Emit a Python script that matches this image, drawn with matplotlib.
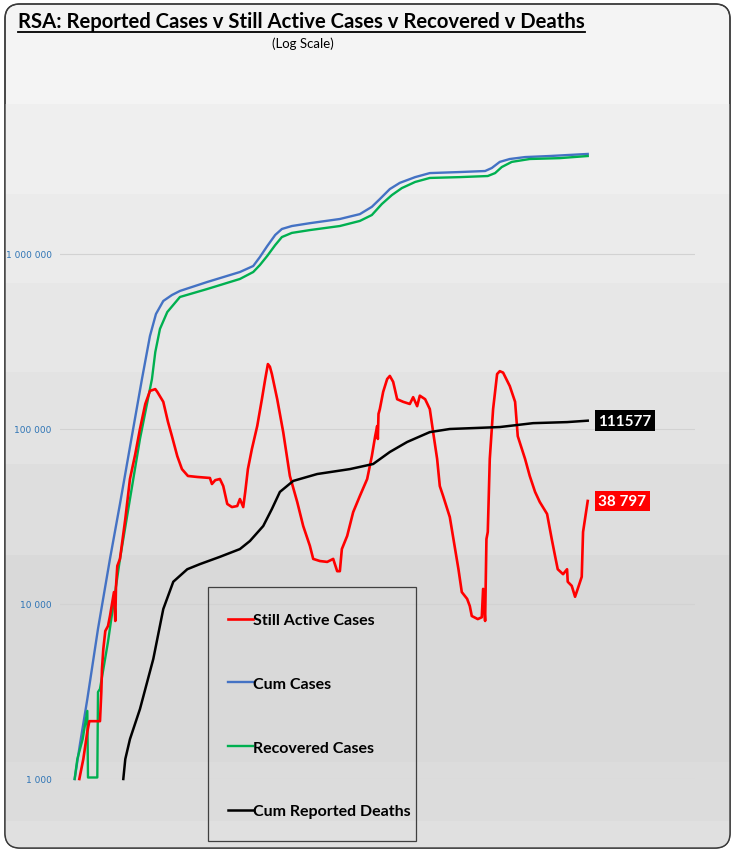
import numpy as np
import matplotlib
matplotlib.use("Agg")
from matplotlib import pyplot as plt
from matplotlib.patches import FancyBboxPatch, Rectangle
from matplotlib.lines import Line2D

# data (x = days since first 1 000 cases, approx.)
cum_days = [2, 10, 21, 37, 55, 70, 85, 103, 115, 124, 135, 148, 160, 201, 250, 270, 280, 291, 303,
            313, 328, 355, 400, 430, 448, 460, 475, 490, 513, 535, 580, 618, 628, 640, 655, 678, 715, 772]
cum_cases = [1000, 1585, 2860, 7200, 18100, 37300, 78900, 193000, 340000, 454000, 539000, 583000,
             615000, 692000, 789000, 854000, 961000, 1110000, 1285000, 1390000, 1445000, 1500000,
             1585000, 1690000, 1860000, 2060000, 2350000, 2550000, 2750000, 2900000, 2940000,
             2980000, 3100000, 3360000, 3490000, 3580000, 3630000, 3730000]

rec_days = [2, 6, 14, 21, 22, 36, 37, 40, 52, 70, 85, 100, 118, 123, 130, 141, 160, 201, 250, 270,
            280, 291, 303, 313, 328, 355, 400, 430, 448, 463, 478, 493, 513, 535, 580, 622, 633,
            643, 658, 685, 730, 772]
recovered = [1000, 1300, 1690, 2450, 1020, 1020, 3140, 3270, 6070, 18100, 39800, 87700, 193000,
             275000, 373000, 466000, 568000, 631000, 720000, 789000, 865000, 975000, 1125000,
             1250000, 1320000, 1370000, 1445000, 1545000, 1670000, 1930000, 2170000, 2380000,
             2580000, 2720000, 2750000, 2790000, 2900000, 3140000, 3360000, 3490000, 3530000,
             3630000]

act_days = [9, 15, 21, 24, 40, 42, 43, 45, 48, 52, 55, 61, 63, 64, 66, 70, 78, 85, 93, 100, 108,
            115, 123, 126, 135, 142, 148, 156, 163, 172, 186, 205, 208, 213, 220, 225, 231, 238,
            246, 250, 255, 258, 262, 268, 276, 283, 288, 292, 295, 298, 306, 315, 325, 336, 345,
            355, 360, 370, 381, 390, 396, 400, 403, 411, 420, 430, 441, 448, 453, 456, 457, 458,
            460, 465, 471, 475, 480, 486, 495, 505, 510, 516, 520, 528, 535, 540, 546, 550, 555,
            565, 570, 578, 583, 591, 595, 598, 607, 613, 615, 618, 620, 622, 625, 630, 636, 640,
            645, 655, 663, 667, 678, 685, 693, 700, 711, 718, 723, 727, 735, 741, 742, 748, 753,
            757, 763, 765, 772]
active = [1000, 1300, 1860, 2140, 2140, 3140, 4250, 5530, 7010, 7480, 8540, 11700, 8000, 12500,
          16500, 18100, 30600, 51800, 72000, 100000, 139000, 165000, 169000, 163000, 143000,
          110000, 91000, 70000, 59000, 53900, 53200, 52500, 48500, 51000, 51800, 47200, 37300,
          35800, 36300, 39800, 35800, 43700, 59000, 76900, 104000, 148000, 193000, 235000, 227000,
          206000, 148000, 96000, 53900, 38300, 27900, 21500, 18100, 17600, 17400, 18100, 15400,
          15400, 20600, 24500, 33500, 41400, 51800, 70000, 91000, 104000, 87700, 122000, 130000,
          163000, 193000, 201000, 186000, 148000, 143000, 139000, 152000, 135000, 155000, 148000,
          130000, 96000, 67400, 47200, 41400, 31400, 24100, 15800, 11700, 10700, 9740, 8540, 8200,
          8400, 12200, 8000, 23500, 25800, 67400, 130000, 206000, 214000, 210000, 176000, 143000,
          91000, 67400, 53900, 43700, 38300, 32700, 23500, 18800, 15800, 14800, 15800, 13400,
          12700, 11000, 12200, 14300, 25800, 38797]

death_days = [75, 78, 85, 100, 120, 135, 150, 171, 190, 220, 250, 265, 285, 298, 310, 330, 366,
              415, 450, 475, 501, 535, 565, 640, 690, 741, 772]
deaths = [1000, 1300, 1690, 2510, 4850, 9360, 13400, 15800, 16900, 18600, 20600, 22900, 27900,
          34900, 43700, 50500, 55300, 59000, 63100, 73900, 84300, 96000, 100000, 102600, 108000,
          109500, 111577]

ytick_vals = [1000, 10000, 100000, 1000000]
ytick_labels = ["1 000", "10 000", "100 000", "1 000 000"]

W, H = 7.35, 8.54
fig = plt.figure(figsize=(W, H), dpi=100)
fig.patch.set_facecolor("white")

# rounded panel + horizontal shading bands (pixel rows from the top)
panel = FancyBboxPatch((0.05, 0.05), W - 0.1, H - 0.1,
                       boxstyle="round,pad=0,rounding_size=0.15",
                       transform=fig.dpi_scale_trans, fc="#f4f4f4", ec="#3a3a3a", lw=1.0, zorder=0)
fig.patches.append(panel)
bands = [(105, 195, "#efefef"), (195, 284, "#ebebeb"), (284, 373, "#e7e7e7"),
         (373, 465, "#e3e3e3"), (465, 556, "#dedede"), (556, 763, "#d9d9d9"),
         (763, 822, "#dcdcdc"), (822, 854, "#e0e0e0")]
for top, bot, c in bands:
    r = Rectangle((0, (H * 100 - bot) / 100), W, (bot - top) / 100,
                  transform=fig.dpi_scale_trans, fc=c, ec="none", zorder=0.5)
    r.set_clip_path(panel)
    fig.patches.append(r)
fig.patches.append(FancyBboxPatch((0.05, 0.05), W - 0.1, H - 0.1,
                                  boxstyle="round,pad=0,rounding_size=0.15",
                                  transform=fig.dpi_scale_trans, fc="none", ec="#3a3a3a",
                                  lw=1.0, zorder=1))

ax = fig.add_axes([60 / 735, 74 / 854, 635 / 735, 675 / 854])
ax.set_zorder(3)
ax.set_facecolor("none")
ax.set_yscale("log")
ax.set_ylim(1000, 10 ** (3 + 675 / 175))
ax.set_xlim(-20, 933)
for s in ax.spines.values():
    s.set_visible(False)
ax.set_xticks([])
ax.set_yticks(ytick_vals)
ax.set_yticklabels(ytick_labels)
ax.yaxis.set_minor_locator(matplotlib.ticker.NullLocator())
ax.tick_params(axis="y", length=0, pad=6, labelsize=6.5, labelcolor="#2e74b5")
ax.grid(axis="y", color="#d2d2d2", lw=0.8)
ax.set_axisbelow(True)

l_cum, = ax.plot(cum_days, cum_cases, color="#4472c4", lw=1.7, clip_on=False)
l_rec, = ax.plot(rec_days, recovered, color="#00b050", lw=1.7, clip_on=False)
l_act, = ax.plot(act_days, active, color="#ff0000", lw=1.9, clip_on=False)
l_dth, = ax.plot(death_days, deaths, color="black", lw=1.8, clip_on=False)

ax.text(788, deaths[-1], "111577", ha="left", va="center", color="white", fontsize=11,
        fontweight="bold", family="Lato",
        bbox=dict(boxstyle="square,pad=0.22", fc="black", ec="none"))
ax.text(788, active[-1], "38 797", ha="left", va="center", color="white", fontsize=11,
        fontweight="bold", family="Lato",
        bbox=dict(boxstyle="square,pad=0.22", fc="#ff0000", ec="none"))

# legend with its own frame
fig.patches.append(Rectangle((208 / 735, 1 - 842 / 854), 208 / 735, 254 / 854,
                             transform=fig.transFigure, fc="none", ec="#404040", lw=0.9, zorder=4))
leg = fig.legend([l_act, l_cum, l_rec, l_dth],
                 ["Still Active Cases", "Cum Cases", "Recovered Cases", "Cum Reported Deaths"],
                 loc="upper left", bbox_to_anchor=(220 / 735, 1 - 606 / 854), frameon=False,
                 handlelength=1.55, handletextpad=0.0, labelspacing=3.1, borderpad=0,
                 prop=dict(family="Lato", weight="bold", size=11.5))
leg.set_zorder(5)

t = fig.text(18 / 735, 1 - 22 / 854, "RSA: Reported Cases v Still Active Cases v Recovered v Deaths",
             ha="left", va="center", fontsize=14.6, fontweight="bold", family="Lato")
fig.text(303 / 735, 1 - 44 / 854, "(Log Scale)", ha="center", va="center", fontsize=9.5,
         family="Lato")

fig.canvas.draw()
bb = t.get_window_extent()
fig.add_artist(Line2D([bb.x0 / fig.bbox.width, bb.x1 / fig.bbox.width],
                      [(bb.y0 - 1) / fig.bbox.height] * 2, transform=fig.transFigure,
                      color="black", lw=1.3))

fig.savefig("out.png", dpi=100)
